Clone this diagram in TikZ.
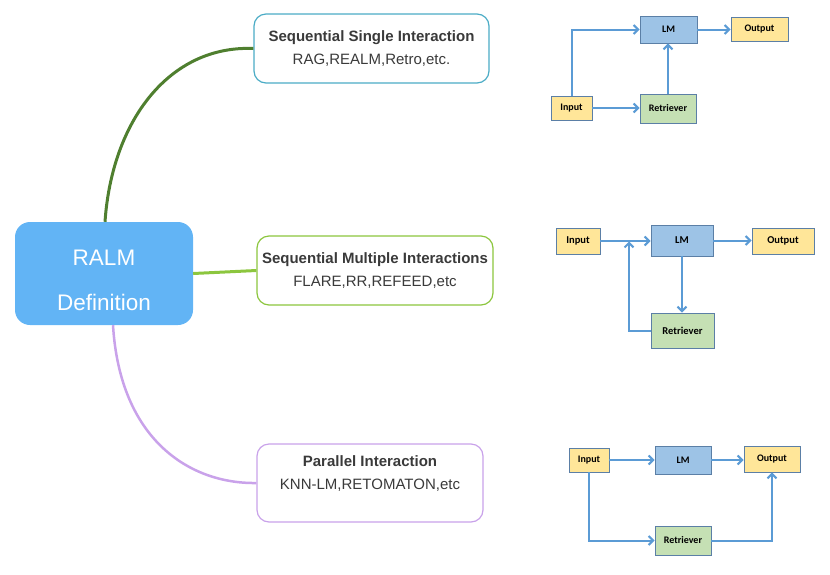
\documentclass[tikz,border=0pt]{standalone}
\usepackage{fontspec}
\setmainfont{Liberation Sans}
\newfontfamily\flowfont{Carlito}
\usepackage{tikz}
\usetikzlibrary{arrows.meta,positioning}
\definecolor{ralmblue}{HTML}{62B4F5}
\definecolor{singleteal}{HTML}{4BACC6}
\definecolor{multigreen}{HTML}{8CC63E}
\definecolor{paralpurple}{HTML}{C9A2EA}
\definecolor{curvegreen}{HTML}{4F7F2F}
\definecolor{flowblue}{HTML}{5B9BD5}
\definecolor{edgegray}{HTML}{5B7FA6}
\definecolor{lmfill}{HTML}{9DC3E6}
\definecolor{iofill}{HTML}{FFE699}
\definecolor{retfill}{HTML}{C5E0B4}
\definecolor{txtgray}{HTML}{3A3A3A}

\begin{document}
\begin{tikzpicture}[
  x=1pt, y=-1pt,
  topic/.style={fill=ralmblue, draw=none, rounded corners=15pt, text=white, align=center, font=\fontsize{22.5}{45}\selectfont},
  branch/.style={draw=#1, line width=1.2pt, rounded corners=12pt, fill=white, align=center, text=txtgray, font=\fontsize{15}{23}\selectfont},
  blk/.style={draw=edgegray, line width=0.9pt, inner sep=1pt, font=\flowfont\bfseries\fontsize{10}{12}\selectfont},
  flow/.style={draw=flowblue, line width=2pt, -{Straight Barb[length=4.5pt,width=9pt]}}
]
\useasboundingbox (0,0) rectangle (830,574);

% mind map
\node[topic, minimum width=178pt, minimum height=103pt] (ralm) at (104,273.5) {\rule{0pt}{29pt}RALM\\Definition};
\node[branch=singleteal, minimum width=235pt, minimum height=69pt] (seqsingle) at (371.5,48.5)
  {\textbf{Sequential Single Interaction}\\RAG,REALM,Retro,etc.};
\node[branch=multigreen, minimum width=236pt, minimum height=69pt] (seqmulti) at (375,270.5)
  {\textbf{Sequential Multiple Interactions}\\FLARE,RR,REFEED,etc};
\node[branch=paralpurple, minimum width=226pt, minimum height=78pt] (parallel) at (370,483)
  {\textbf{Parallel Interaction}\\KNN-LM,RETOMATON,etc\\[-10pt]\strut};

\draw[curvegreen, line width=3pt] ([xshift=1pt]ralm.north) .. controls (112,120) and (170,45) .. (seqsingle.west);
\draw[multigreen, line width=3pt] (ralm.east) -- (seqmulti.west);
\draw[paralpurple, line width=2.5pt] ([xshift=9pt]ralm.south) .. controls (120,440) and (190,484) .. (parallel.west);

% single interaction
\node[blk, fill=iofill, minimum width=41pt, minimum height=24pt] (in1) at (571.5,108) {Input};
\node[blk, fill=retfill, minimum width=56pt, minimum height=29pt] (ret1) at (668,108.5) {Retriever};
\node[blk, fill=lmfill, minimum width=57pt, minimum height=27pt] (lm1) at (668.5,29.5) {LM};
\node[blk, fill=iofill, minimum width=57pt, minimum height=24pt] (out1) at (759.5,29.5) {Output};

\draw[flow] (in1.north) |- (lm1.west);
\draw[flow] (in1.east) -- (in1.east -| ret1.west);
\draw[flow] (ret1.north) -- (ret1.north |- lm1.south);
\draw[flow] (lm1.east) -- (out1.west);

% multiple interactions
\node[blk, fill=iofill, minimum width=44pt, minimum height=26pt, font=\flowfont\bfseries\fontsize{10.5}{12}\selectfont] (in2) at (578,241) {Input};
\node[blk, fill=lmfill, minimum width=62pt, minimum height=31pt, font=\flowfont\bfseries\fontsize{10.5}{12}\selectfont] (lm2) at (682,240.5) {LM};
\node[blk, fill=iofill, minimum width=62pt, minimum height=26pt, font=\flowfont\bfseries\fontsize{10.5}{12}\selectfont] (out2) at (783,241) {Output};
\node[blk, fill=retfill, minimum width=63pt, minimum height=35pt, font=\flowfont\bfseries\fontsize{10.5}{12}\selectfont] (ret2) at (682.5,330.5) {Retriever};
\coordinate (join2) at (629,241.5);

\draw[flow] (in2.east) -- (in2.east -| lm2.west);
\draw[flow] (lm2.south) -- (lm2.south |- ret2.north);
\draw[flow] (ret2.west) -| (join2);
\draw[flow] (lm2.east) -- (lm2.east -| out2.west);

% parallel interaction
\node[blk, fill=iofill, minimum width=40pt, minimum height=24pt] (in3) at (589,460) {Input};
\node[blk, fill=lmfill, minimum width=56pt, minimum height=28pt] (lm3) at (683,460) {LM};
\node[blk, fill=iofill, minimum width=56pt, minimum height=26pt] (out3) at (772,459) {Output};
\node[blk, fill=retfill, minimum width=56pt, minimum height=29pt] (ret3) at (683,540.5) {Retriever};

\draw[flow] (in3.east) -- (lm3.west);
\draw[flow] (lm3.east) -- (lm3.east -| out3.west);
\draw[flow] (in3.south) |- (ret3.west);
\draw[flow] (ret3.east) -| (out3.south);
\end{tikzpicture}
\end{document}
